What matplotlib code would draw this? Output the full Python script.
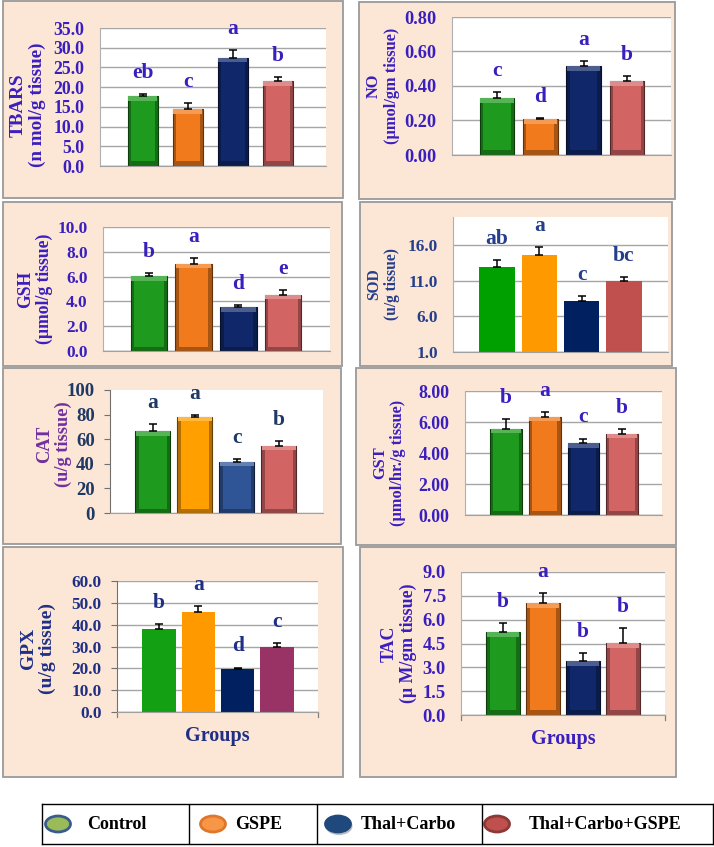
import numpy as np
import matplotlib
matplotlib.use('Agg')
from matplotlib import pyplot as plt
from matplotlib.patches import Rectangle, Ellipse
from matplotlib import colors as mcolors

plt.rcParams['font.family'] = ['Liberation Serif', 'DejaVu Serif']
plt.rcParams['font.weight'] = 'bold'

# ---- data ----
groups = ['Control', 'GSPE', 'Thal+Carbo', 'Thal+Carbo+GSPE']

tbars = [17.7, 14.4, 27.5, 21.6]
tbars_err = [0.6, 1.6, 1.9, 0.9]
tbars_sig = ['eb', 'c', 'a', 'b']

no_vals = [0.328, 0.207, 0.514, 0.430]
no_err = [0.035, 0.006, 0.029, 0.027]
no_sig = ['c', 'd', 'a', 'b']

gsh = [6.02, 7.04, 3.52, 4.54]
gsh_err = [0.27, 0.43, 0.22, 0.35]
gsh_sig = ['b', 'a', 'd', 'e']

sod = [12.96, 14.69, 8.2, 10.95]
sod_err = [0.93, 1.03, 0.65, 0.56]
sod_sig = ['ab', 'a', 'c', 'bc']

cat = [66.4, 78.0, 41.7, 54.7]
cat_err = [6.2, 1.6, 1.9, 3.5]
cat_sig = ['a', 'a', 'c', 'b']

gst = [5.57, 6.32, 4.63, 5.25]
gst_err = [0.62, 0.34, 0.30, 0.30]
gst_sig = ['b', 'a', 'c', 'b']

gpx = [37.8, 45.8, 19.75, 29.9]
gpx_err = [2.4, 2.8, 0.6, 1.8]
gpx_sig = ['b', 'a', 'd', 'c']

tac = [5.25, 7.04, 3.42, 4.56]
tac_err = [0.53, 0.63, 0.5, 0.9]
tac_sig = ['b', 'a', 'b', 'b']

W, H = 714, 847
fig = plt.figure(figsize=(W / 100, H / 100), dpi=100)
fig.patch.set_facecolor('white')


def frac(x0, y0, x1, y1):
    return [x0 / W, 1 - y1 / H, (x1 - x0) / W, (y1 - y0) / H]


def shade(c, f):
    r = np.array(mcolors.to_rgb(c))
    if f < 0:
        return tuple(r * (1 + f))
    return tuple(r + (1 - r) * f)


BLUE = '#3A1FBF'
NAVY = '#1F2F86'
bevel_cols = ['#1E9A1E', '#F07A1C', '#10286A', '#D26464']
flat_cols = ['#00A000', '#FF9900', '#002060', '#C0504D']
cat_cols = ['#1E9A1E', '#FFA000', '#2F5597', '#D26464']
gpx_cols = ['#13A013', '#FF9900', '#002060', '#993366']

panels = [
    dict(box=(3, 1, 343, 198), ax=(100, 28, 326, 166), vals=tbars, err=tbars_err,
         sig=tbars_sig, ylim=(0, 35), ticks=np.arange(0, 36, 5), fmt='{:.1f}',
         ylab='TBARS\n(n mol/g tissue)', labx=28, laby=105, lfs=13.8, tfs=12.8,
         col=BLUE, bars=bevel_cols, bevel=True, xlim=(-0.95, 4.07), w=0.67),
    dict(box=(359, 2, 675, 199), ax=(452, 17, 671, 155), vals=no_vals, err=no_err,
         sig=no_sig, ylim=(0, 0.8), ticks=np.arange(0, 0.81, 0.2), fmt='{:.2f}',
         ylab='NO\n(µmol/gm tissue)', labx=383, lfs=11.8, tfs=13.2, col=BLUE,
         bars=bevel_cols, bevel=True, xlim=(-1.04, 4.02), w=0.8),
    dict(box=(3, 202, 342, 366), ax=(103, 227, 330, 351), vals=gsh, err=gsh_err,
         sig=gsh_sig, ylim=(0, 10), ticks=np.arange(0, 10.1, 2), fmt='{:.1f}',
         ylab='GSH\n(µmol/g tissue)', labx=35, lfs=12.7, tfs=12.4, col=BLUE,
         bars=bevel_cols, bevel=True, xlim=(-1.03, 4.05), w=0.82),
    dict(box=(360, 202, 672, 366), ax=(453, 217, 668, 352), vals=sod, err=sod_err,
         sig=sod_sig, ylim=(1, 20), ticks=np.arange(1, 17, 5), fmt='{:.1f}',
         ylab='SOD\n(u/g tissue)', labx=383, lfs=11.2, tfs=12.4, col='#253E8C',
         bars=flat_cols, bevel=False, xlim=(-1.04, 4.04), w=0.84),
    dict(box=(3, 368, 341, 544), ax=(110, 390, 323, 513), vals=cat, err=cat_err,
         sig=cat_sig, ylim=(0, 100), ticks=np.arange(0, 101, 20), fmt='{:.0f}',
         ylab='CAT\n(u/g tissue)', labx=54, laby=444, lfs=13.2, tfs=13.5,
         col='#1F3864', labcol='#7030A0', bars=cat_cols, bevel=True,
         xlim=(-1.02, 4.05), w=0.83, grid=False, tickmarks=True),
    dict(box=(356, 368, 676, 545), ax=(465, 391, 662, 515), vals=gst, err=gst_err,
         sig=gst_sig, ylim=(0, 8), ticks=np.arange(0, 8.1, 2), fmt='{:.2f}',
         ylab='GST\n(µmol/hr./g tissue)', labx=389, laby=463, lfs=11.8, tfs=12.8,
         col=BLUE, bars=bevel_cols, bevel=True, xlim=(-1.06, 4.03), w=0.82),
    dict(box=(3, 547, 343, 777), ax=(117, 581, 318, 712), vals=gpx, err=gpx_err,
         sig=gpx_sig, ylim=(0, 60), ticks=np.arange(0, 61, 10), fmt='{:.1f}',
         ylab='GPX\n(u/g tissue)', labx=38, laby=648, lfs=14, tfs=12.4, col=NAVY,
         bars=gpx_cols, bevel=False, xlim=(-1.07, 4.04), w=0.85, tickmarks=True,
         groups=True),
    dict(box=(360, 547, 676, 777), ax=(461, 572, 665, 715), vals=tac, err=tac_err,
         sig=tac_sig, ylim=(0, 9), ticks=np.arange(0, 9.1, 1.5), fmt='{:.1f}',
         ylab='TAC\n(µ M/gm tissue)', labx=399, lfs=12.9, tfs=13.3, col=BLUE,
         bars=bevel_cols, bevel=True, xlim=(-1.05, 4.05), w=0.83, groups=True),
]

for p in panels:
    x0, y0, x1, y1 = p['box']
    fig.patches.append(Rectangle((x0 / W, 1 - y1 / H), (x1 - x0) / W, (y1 - y0) / H,
                                 transform=fig.transFigure, facecolor='#FCE7D6',
                                 edgecolor='#9A9A9A', lw=1.3, zorder=-5))
    ax = fig.add_axes(frac(*p['ax']))
    ax.set_zorder(2)
    ax.set_facecolor('white')
    x = np.arange(len(p['vals']))
    vals = np.array(p['vals'])
    lo = p['ylim'][0]
    span = p['ylim'][1] - p['ylim'][0]
    w = p['w']
    if p['bevel']:
        inset = span * 0.035
        for xi, v, c in zip(x, vals, p['bars']):
            ax.bar(xi, v - lo, w, bottom=lo, color=shade(c, -0.3),
                   edgecolor=shade(c, -0.6), lw=0.8, zorder=2)
            ax.bar(xi, inset, w * 0.96, bottom=v - inset, color=shade(c, 0.25), zorder=3)
            ax.bar(xi, v - lo - 2 * inset, w * 0.8, bottom=lo + inset, color=c, zorder=4)
    else:
        ax.bar(x, vals - lo, w, bottom=lo, color=p['bars'], zorder=2)
    ax.errorbar(x, vals, yerr=[np.zeros(len(vals)), p['err']], fmt='none',
                ecolor='black', elinewidth=1.1, capsize=3, capthick=1.1, zorder=5)
    for xi, v, e, s in zip(x, vals, p['err'], p['sig']):
        ax.annotate(s, (xi, v + e), xytext=(0, 8), textcoords='offset points',
                    ha='center', va='bottom', fontsize=15.5, fontweight='bold',
                    color=p['col'], zorder=6, annotation_clip=False)
    ax.set_xlim(*p['xlim'])
    ax.set_ylim(*p['ylim'])
    ax.set_xticks([])
    ax.set_yticks(p['ticks'])
    ax.set_yticklabels([p['fmt'].format(t) for t in p['ticks']], fontsize=p['tfs'],
                       fontweight='bold', color=p['col'])
    for sp in ['top', 'right']:
        ax.spines[sp].set_visible(False)
    ax.spines['bottom'].set_color('#A0A0A0')
    if p.get('tickmarks'):
        ax.spines['left'].set_color('#707070')
        ax.tick_params(axis='y', length=4, width=0.8, color='#707070', pad=7)
    else:
        ax.spines['left'].set_color('#B0B0B0')
        ax.tick_params(axis='y', length=0, pad=11)
    if p.get('grid', True):
        ax.yaxis.grid(True, color='#A6A6A6', lw=1.0, zorder=0)
        ax.set_axisbelow(True)
    ax.axhline(p['ylim'][0], color='#A0A0A0', lw=1.0, zorder=1)
    if p.get('groups'):
        ax.set_xlabel('Groups', fontsize=14.5, fontweight='bold', color=p['col'],
                      labelpad=10)
        ax.tick_params(axis='x', length=0)
        for xe in p['xlim']:
            ax.plot([xe, xe], [0, -0.035], transform=ax.get_xaxis_transform(),
                    color='#808080', lw=0.9, clip_on=False)
    ax1 = p['ax']
    laby = p.get('laby', (ax1[1] + ax1[3]) / 2)
    ax.set_ylabel(p['ylab'], fontsize=p['lfs'], fontweight='bold',
                  color=p.get('labcol', p['col']), linespacing=1.15)
    ax.yaxis.label.set_verticalalignment('center')
    ax.yaxis.set_label_coords((p['labx'] - ax1[0]) / (ax1[2] - ax1[0]),
                              (ax1[3] - laby) / (ax1[3] - ax1[1]))

# ---- legend box ----
lx0, ly0, lx1, ly1 = 42, 804, 713, 844
lax = fig.add_axes(frac(lx0, ly0, lx1, ly1))
lax.set_xlim(lx0, lx1)
lax.set_ylim(ly1, ly0)
lax.set_xticks([])
lax.set_yticks([])
for sp in lax.spines.values():
    sp.set_color('black')
    sp.set_linewidth(1.0)
for xd in [189, 317, 482]:
    lax.axvline(xd, color='black', lw=1.0)
leg_fill = ['#9BBB59', '#F79646', '#1F497D', '#C0504D']
leg_edge = ['#385D8A', '#E0762A', '#1F497D', '#8C3836']
leg_mx = [58, 213, 338, 497]
leg_tx = [87, 235, 361, 529]
for g, fc, ec, mx, tx in zip(groups, leg_fill, leg_edge, leg_mx, leg_tx):
    if g == 'Thal+Carbo':
        lax.add_patch(Ellipse((mx + 1, 826), 26, 17, color='#777777', alpha=0.35))
    lax.add_patch(Ellipse((mx, 824), 25, 16, facecolor=fc, edgecolor=ec, lw=2))
    lax.text(tx, 824, g, fontsize=13, fontweight='bold', color='black',
             ha='left', va='center')

fig.savefig('out.png', dpi=100)
